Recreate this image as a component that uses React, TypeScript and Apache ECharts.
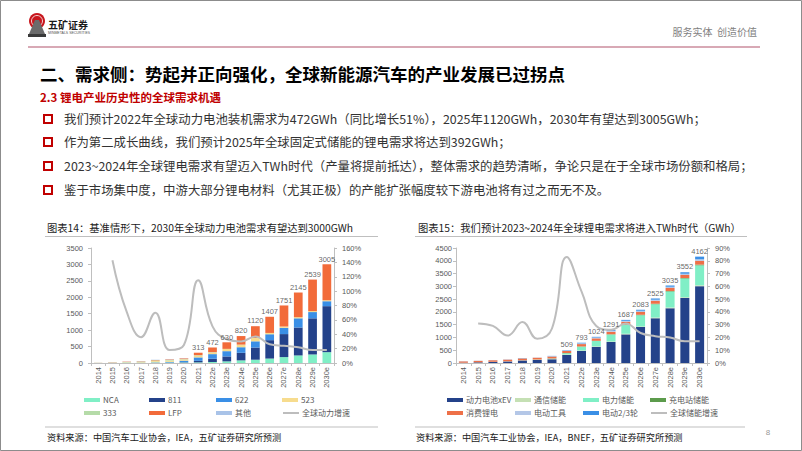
import React, { useEffect, useRef } from 'react';
import * as echarts from 'echarts';

const years = ['2014', '2015', '2016', '2017', '2018', '2019', '2020', '2021', '2022e', '2023e', '2024e', '2025e', '2026e', '2027e', '2028e', '2029e', '2030e'];

// 图表14 (GWh)
const nca = [1, 3, 5, 6, 10, 12, 15, 20, 30, 50, 80, 100, 135, 180, 230, 260, 330];
const c811 = [0, 0, 0, 0, 0, 3, 10, 45, 100, 150, 230, 370, 560, 700, 850, 1100, 1400];
const c622 = [1, 2, 3, 5, 12, 20, 45, 105, 140, 160, 170, 190, 180, 190, 280, 190, 150];
const c523 = [3, 6, 12, 17, 35, 40, 40, 55, 50, 70, 80, 100, 40, 40, 35, 30, 30];
const c333 = [2, 6, 10, 15, 22, 20, 10, 13, 10, 0, 0, 0, 0, 0, 0, 0, 0];
const lfp = [2, 6, 10, 10, 12, 15, 20, 75, 142, 200, 260, 360, 492, 641, 750, 959, 1095];
const other = [1, 2, 3, 5, 8, 7, 6, 0, 0, 0, 0, 0, 0, 0, 0, 0, 0];
const totals1 = [null, null, null, null, null, null, null, 313, 472, 630, 820, 1120, 1407, 1751, 2145, 2539, 3005];
const growth1 = [null, 1.43, 0.71, 0.36, 0.70, 0.18, 0.25, 1.15, 0.51, 0.33, 0.30, 0.37, 0.26, 0.24, 0.22, 0.18, 0.18];

// 图表15 (GWh)
const xev = [10, 25, 43, 58, 99, 117, 146, 313, 472, 630, 820, 1120, 1407, 1751, 2145, 2539, 3005];
const tongxin = [1, 1, 2, 3, 5, 6, 8, 15, 18, 20, 22, 24, 26, 28, 30, 30, 35];
const dianli = [1, 2, 3, 4, 6, 10, 20, 55, 150, 210, 270, 350, 440, 520, 620, 733, 780];
const chongdian = [0, 0, 0, 1, 1, 2, 3, 5, 8, 10, 12, 15, 17, 20, 22, 25, 30];
const xiaofei = [50, 55, 60, 65, 62, 68, 75, 85, 92, 95, 100, 105, 110, 115, 120, 120, 150];
const gongju = [4, 4, 5, 6, 7, 10, 16, 22, 30, 32, 35, 37, 40, 42, 45, 45, 60];
const lianglun = [2, 2, 2, 3, 4, 6, 10, 14, 23, 27, 32, 36, 43, 49, 53, 60, 102];
const totals2 = [null, null, null, null, null, null, null, 509, 793, 1024, 1291, 1687, 2083, 2525, 3035, 3552, 4162];
const growth2 = [null, 0.31, 0.29, 0.215, 0.32, 0.19, 0.27, 0.83, 0.56, 0.29, 0.26, 0.31, 0.235, 0.21, 0.20, 0.17, 0.17];

const bullets = [
  '我们预计2022年全球动力电池装机需求为472GWh（同比增长51%），2025年1120GWh，2030年有望达到3005GWh；',
  '作为第二成长曲线，我们预计2025年全球固定式储能的锂电需求将达到392GWh；',
  '2023~2024年全球锂电需求有望迈入TWh时代（产量将提前抵达），整体需求的趋势清晰，争论只是在于全球市场份额和格局；',
  '鉴于市场集中度，中游大部分锂电材料（尤其正极）的产能扩张幅度较下游电池将有过之而无不及。',
];

const FONT = '"Liberation Sans", "Noto Sans CJK SC", sans-serif';
const CJK = '"Noto Sans CJK SC", "Liberation Sans", sans-serif';
const AX = '#bfbfbf';
const LBL = '#595959';

const pct = (v: number) => Math.round(v * 100) + '%';

function valAxis(grid: number, max: number, interval: number, position: string, fmt: any, margin: number) {
  return {
    type: 'value', gridIndex: grid, min: 0, max, interval, position,
    splitLine: { show: false },
    axisLine: { show: true, lineStyle: { color: AX } },
    axisTick: { show: true, length: 3, lineStyle: { color: AX } },
    axisLabel: { fontSize: 7.5, color: LBL, fontFamily: FONT, margin, formatter: fmt },
  };
}

function bar(name: string, data: number[], color: string, g: number) {
  return {
    name, type: 'bar', data, stack: 's' + g, xAxisIndex: g, yAxisIndex: g * 2,
    barWidth: '61%', itemStyle: { color }, z: 2,
  };
}

function legend(name: string, left: number, top: number, isLine = false) {
  return {
    data: [name], left, top, padding: 0, itemWidth: 16, itemHeight: isLine ? 2 : 4,
    icon: isLine ? undefined : 'rect', selectedMode: false,
    textStyle: { fontSize: 8, color: LBL, fontFamily: CJK, padding: [0, 0, 0, -2] },
  };
}

function txt(x: number, y: number, text: string, size: number, fill: string, weight = 'normal', align = 'left', family = CJK) {
  return {
    type: 'text', x, y, silent: true,
    style: { text, fontSize: size, fontWeight: weight, fill, fontFamily: family, textAlign: align, textVerticalAlign: 'middle' },
  };
}

function hline(x1: number, x2: number, y: number, color: string, w = 1) {
  return { type: 'line', silent: true, shape: { x1, y1: y, x2, y2: y }, style: { stroke: color, lineWidth: w } };
}

function buildOption() {
  const c1 = { nca: '#80efc6', c811: '#24428a', c622: '#3a8fe6', c523: '#f7dc8e', c333: '#b5dba8', lfp: '#f26b3a', other: '#a9c3e8' };
  const c2 = { xev: '#24428a', tongxin: '#c5e0b4', dianli: '#80efc6', chongdian: '#5c9b4c', xiaofei: '#ee7048', gongju: '#b4c7e7', lianglun: '#3a8fe6' };
  const lineGray = '#bdbdbd';

  const graphic: any[] = [
    { type: 'rect', silent: true, shape: { x: 0.5, y: 0.5, width: 801, height: 450 }, style: { fill: 'none', stroke: '#8c8c8c', lineWidth: 1 } },
    // logo
    { type: 'circle', silent: true, shape: { cx: 37, cy: 21, r: 8 }, style: { fill: '#c8161d' } },
    { type: 'circle', silent: true, shape: { cx: 37, cy: 21, r: 5.5 }, style: { fill: 'none', stroke: '#ffffff', lineWidth: 0.8 } },
    { type: 'polygon', silent: true, shape: { points: [[35, 20], [39, 20], [45, 34], [29, 34]] }, style: { fill: '#6b6b6b' } },
    { type: 'rect', silent: true, shape: { x: 28, y: 34, width: 18, height: 3 }, style: { fill: '#3a3a3a' } },
    txt(48, 24, '五矿证券', 10, '#1a1a1a', 'bold'),
    txt(48, 33, 'MINMETALS SECURITIES', 3.5, '#555555', 'normal', 'left', FONT),
    txt(757, 31, '服务实体  创造价值', 10, '#7f7f7f', 'normal', 'right'),
    hline(28, 760, 47, '#d8a9b5', 2),
    // heading
    txt(40, 73, '二、需求侧：势起并正向强化，全球新能源汽车的产业发展已过拐点', 17.5, '#000000', 'bold'),
    txt(40, 97, '2.3 锂电产业历史性的全球需求机遇', 11.5, '#c00000', 'bold'),
    // chart titles / sources
    txt(47, 227, '图表14：基准情形下，2030年全球动力电池需求有望达到3000GWh', 10.3, '#1a1a1a'),
    hline(45, 378, 236.5, '#bfbfbf'),
    hline(45, 378, 427, '#bfbfbf'),
    txt(47, 437, '资料来源：中国汽车工业协会，IEA，五矿证券研究所预测', 9.2, '#1a1a1a'),
    txt(418, 227, '图表15：我们预计2023~2024年全球锂电需求将进入TWh时代（GWh）', 10.3, '#1a1a1a'),
    hline(415, 747, 236.5, '#bfbfbf'),
    hline(415, 745, 427, '#bfbfbf'),
    txt(416, 437, '资料来源：中国汽车工业协会，IEA，BNEF，五矿证券研究所预测', 9.2, '#1a1a1a'),
    txt(768, 432, '8', 8, '#999999', 'normal', 'center', FONT),
  ];
  const by = [119, 142, 166, 190];
  bullets.forEach((b, i) => {
    graphic.push({ type: 'rect', silent: true, shape: { x: 44, y: by[i] - 4, width: 8, height: 8 }, style: { fill: 'none', stroke: '#c00000', lineWidth: 2 } });
    graphic.push(txt(64, by[i], b, 12.4, '#333333'));
  });

  const xAxis = [0, 1].map((g) => ({
    type: 'category', gridIndex: g, data: years,
    axisLine: { lineStyle: { color: AX } },
    axisTick: { show: true, length: 3, lineStyle: { color: AX } },
    axisLabel: { rotate: 90, interval: 0, fontSize: 7.5, color: LBL, fontFamily: FONT, margin: 4 },
  }));

  const yAxis = [
    valAxis(0, 3500, 500, 'left', (v: number) => String(v), 8),
    valAxis(0, 1.6, 0.2, 'right', pct, 8),
    valAxis(1, 4500, 500, 'left', (v: number) => String(v), 4),
    valAxis(1, 0.9, 0.1, 'right', pct, 8),
  ];

  const totLabel = (g: number, data: (number | null)[]) => ({
    name: 'total' + g, type: 'scatter', xAxisIndex: g, yAxisIndex: g * 2, data,
    symbolSize: 1, itemStyle: { color: 'rgba(0,0,0,0)' }, z: 5, silent: true,
    label: { show: true, position: 'top', distance: 1, fontSize: 7.5, color: '#404040', fontFamily: FONT, formatter: '{c}' },
  });

  const growthLine = (g: number, name: string, data: (number | null)[]) => ({
    name, type: 'line', xAxisIndex: g, yAxisIndex: g * 2 + 1, data, smooth: 0.45,
    symbol: 'none', z: 4, lineStyle: { color: lineGray, width: 2 }, itemStyle: { color: lineGray },
  });

  const series = [
    bar('NCA', nca, c1.nca, 0),
    bar('811', c811, c1.c811, 0),
    bar('622', c622, c1.c622, 0),
    bar('523', c523, c1.c523, 0),
    bar('333', c333, c1.c333, 0),
    bar('LFP', lfp, c1.lfp, 0),
    bar('其他', other, c1.other, 0),
    growthLine(0, '全球动力增速', growth1),
    totLabel(0, totals1),
    bar('动力电池xEV', xev, c2.xev, 1),
    bar('通信储能', tongxin, c2.tongxin, 1),
    bar('电力储能', dianli, c2.dianli, 1),
    bar('充电站储能', chongdian, c2.chongdian, 1),
    bar('消费锂电', xiaofei, c2.xiaofei, 1),
    bar('电动工具', gongju, c2.gongju, 1),
    bar('电动2/3轮', lianglun, c2.lianglun, 1),
    growthLine(1, '全球储能增速', growth2),
    totLabel(1, totals2),
  ];

  const r1 = 396, r2 = 409;
  const legends = [
    legend('NCA', 84, r1), legend('811', 149, r1), legend('622', 216, r1), legend('523', 282, r1),
    legend('333', 84, r2), legend('LFP', 149, r2), legend('其他', 216, r2), legend('全球动力增速', 282, r2, true),
    legend('动力电池xEV', 447, r1), legend('通信储能', 515, r1), legend('电力储能', 583, r1), legend('充电站储能', 650, r1),
    legend('消费锂电', 447, r2), legend('电动工具', 515, r2), legend('电动2/3轮', 583, r2), legend('全球储能增速', 650, r2, true),
  ];

  return {
    animation: false,
    backgroundColor: '#ffffff',
    grid: [
      { left: 91, top: 248, width: 243, height: 115 },
      { left: 456, top: 248, width: 251, height: 115 },
    ],
    xAxis, yAxis, series, legend: legends, graphic,
  };
}

export default function App() {
  const ref = useRef<HTMLDivElement>(null);
  useEffect(() => {
    document.body.style.margin = '0';
    const chart = echarts.init(ref.current!, undefined, { renderer: 'svg', width: 802, height: 451 });
    chart.setOption(buildOption() as any);
    return () => chart.dispose();
  }, []);
  return <div ref={ref} style={{ width: 802, height: 451, background: '#fff' }} />;
}
